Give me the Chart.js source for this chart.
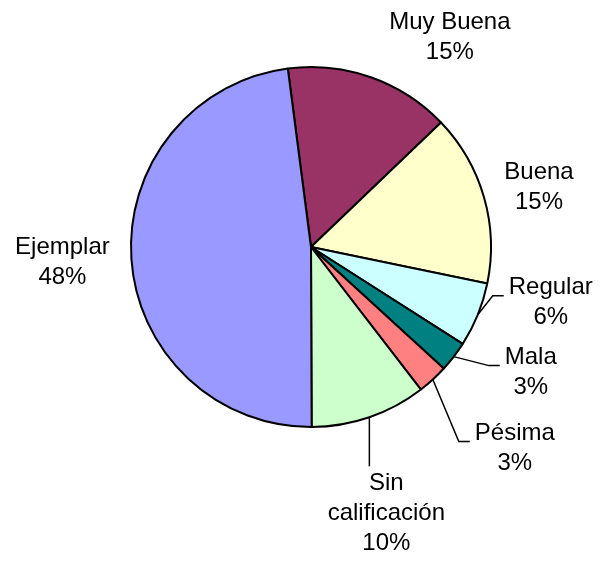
<!DOCTYPE html>
<html>
<head>
<meta charset="utf-8">
<script src="https://cdn.jsdelivr.net/npm/chart.js@4.4.0/dist/chart.umd.min.js"></script>
<style>
  html, body { margin: 0; padding: 0; background: #fff; }
  #pie { display: block; }
</style>
</head>
<body>
<canvas id="pie" width="604" height="562"></canvas>
<script>
// Datos (sentido horario desde arriba)
const categorias = ['Muy Buena', 'Buena', 'Regular', 'Mala', 'Pésima', ['Sin', 'calificación'], 'Ejemplar'];
const valores = [14.9, 15.4, 5.8, 2.75, 2.75, 10.4, 48.0];
const porcentajes = ['15%', '15%', '6%', '3%', '3%', '10%', '48%'];

// Estilo
const colores = ['#993366', '#FFFFCC', '#CCFFFF', '#008080', '#FF8080', '#CCFFCC', '#9999FF'];
// desplazamiento de cada etiqueta respecto al borde del sector
const desplEtiqueta = [[79, -40], [55, -10], [73, -12], [77, 16], [82, 69], [17, 96], [-69, 3]];
const lineaGuia = [null, null, 'lado', 'lado', 'lado', 'abajo', null];

const FUENTE = '24px "Liberation Sans", Arial, sans-serif';
const ALTO_LINEA = 30;

// Etiquetas con líneas guía
const etiquetasPlugin = {
  id: 'etiquetas',
  afterDatasetsDraw(chart) {
    const ctx = chart.ctx;
    const meta = chart.getDatasetMeta(0);
    ctx.save();
    ctx.font = FUENTE;
    ctx.fillStyle = '#000';
    ctx.strokeStyle = '#000';
    ctx.lineWidth = 1.5;
    ctx.textAlign = 'center';
    ctx.textBaseline = 'middle';
    meta.data.forEach((arc, i) => {
      const { x, y, startAngle, endAngle, outerRadius } = arc.getProps(['x', 'y', 'startAngle', 'endAngle', 'outerRadius'], true);
      const mid = (startAngle + endAngle) / 2;
      const px = x + outerRadius * Math.cos(mid);
      const py = y + outerRadius * Math.sin(mid);
      const cx = px + desplEtiqueta[i][0];
      const cy = py + desplEtiqueta[i][1];
      const cat = categorias[i];
      const lineas = (Array.isArray(cat) ? cat : [cat]).concat(porcentajes[i]);
      const anchoMax = Math.max(...lineas.map((l) => ctx.measureText(l).width));
      const arriba = cy - (lineas.length * ALTO_LINEA) / 2;

      if (lineaGuia[i] === 'lado') {
        const izq = cx - anchoMax / 2;
        const ly = cy - 7;
        ctx.beginPath();
        ctx.moveTo(px, py);
        ctx.lineTo(izq - 16, ly);
        ctx.lineTo(izq - 5, ly);
        ctx.stroke();
      } else if (lineaGuia[i] === 'abajo') {
        ctx.beginPath();
        ctx.moveTo(px, py);
        ctx.lineTo(px, arriba - 2);
        ctx.stroke();
      }

      lineas.forEach((l, k) => {
        ctx.fillText(l, cx, arriba + ALTO_LINEA * (k + 0.5));
      });
    });
    ctx.restore();
  }
};

const chart = new Chart(document.getElementById('pie').getContext('2d'), {
  type: 'pie',
  data: {
    labels: categorias,
    datasets: [{
      data: valores,
      backgroundColor: colores,
      borderColor: '#000',
      borderWidth: 2
    }]
  },
  options: {
    responsive: false,
    animation: false,
    rotation: -7.4,
    radius: 180,
    layout: { padding: { left: 18, right: 0, top: 0, bottom: 68 } },
    plugins: {
      legend: { display: false },
      tooltip: { enabled: false }
    }
  },
  plugins: [etiquetasPlugin]
});
</script>
</body>
</html>
